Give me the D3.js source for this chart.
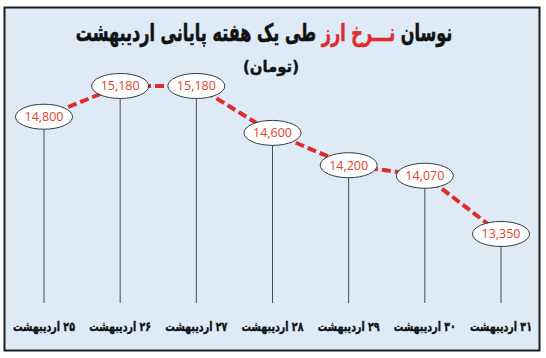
<!DOCTYPE html>
<html>
<head>
<meta charset="utf-8">
<script src="https://cdn.jsdelivr.net/npm/d3@7"></script>
<style>
  html, body { margin: 0; padding: 0; background: #ffffff; }
  svg { display: block; }
</style>
</head>
<body>
<svg id="chart" width="546" height="358"></svg>
<script>
// ---- data ----
const categories = ["۲۵ اردیبهشت", "۲۶ اردیبهشت", "۲۷ اردیبهشت", "۲۸ اردیبهشت", "۲۹ اردیبهشت", "۳۰ اردیبهشت", "۳۱ اردیبهشت"];
const values = [14800, 15180, 15180, 14600, 14200, 14070, 13350];
const valueLabels = ["14,800", "15,180", "15,180", "14,600", "14,200", "14,070", "13,350"];
const titleParts = ["نوسان ", "نـــرخ ارز", " طی یک هفته پایانی اردیبهشت"];
const subtitle = "(تومان)";

const W = 546, H = 358;
const svg = d3.select("#chart");

// fit a text element horizontally into a given width around centre cx
function fitX(sel, cx, cy, width) {
  sel.each(function() {
    const len = this.getComputedTextLength();
    const s = width / len;
    d3.select(this).attr("x", 0).attr("y", 0)
      .attr("transform", `translate(${cx},${cy}) scale(${s},1)`);
  });
}

// frame
svg.append("rect")
  .attr("x", 4.5).attr("y", 7.5)
  .attr("width", 535).attr("height", 343)
  .attr("fill", "#deebf7")
  .attr("stroke", "#1e1e1e")
  .attr("stroke-width", 2);

// scales
const x = d3.scalePoint().domain(categories).range([44, 501]);
const y = d3.scaleLinear().domain([13000, 15500]).range([262.3, 60.1]);
const baseY = 303;

const data = categories.map((c, i) => ({ c, v: values[i], lab: valueLabels[i] }));

// vertical stems
svg.append("g").selectAll("line").data(data).join("line")
  .attr("x1", d => x(d.c)).attr("x2", d => x(d.c))
  .attr("y1", d => y(d.v)).attr("y2", baseY)
  .attr("stroke", "#4a4a4a").attr("stroke-width", 1);

// dashed connecting line
const line = d3.line().x(d => x(d.c)).y(d => y(d.v));
svg.append("path").datum(data)
  .attr("d", line)
  .attr("fill", "none")
  .attr("stroke", "#e02b2b")
  .attr("stroke-width", 4)
  .attr("stroke-dasharray", "9,4");

// ellipses
const g = svg.append("g").selectAll("g").data(data).join("g")
  .attr("transform", d => `translate(${x(d.c)},${y(d.v)})`);
g.append("ellipse")
  .attr("rx", 28.5).attr("ry", 12.5)
  .attr("fill", "#ffffff")
  .attr("stroke", "#3a3a3a").attr("stroke-width", 1);
g.append("text")
  .attr("text-anchor", "middle")
  .attr("dy", "0.36em")
  .attr("font-family", "'Open Sans', 'Liberation Sans', sans-serif")
  .attr("font-size", 12.5)
  .attr("fill", "#e0442a")
  .text(d => d.lab);

// category labels
const cat = svg.append("g").selectAll("text").data(data).join("text")
  .attr("text-anchor", "middle")
  .attr("direction", "rtl")
  .attr("font-family", "'DejaVu Sans', sans-serif")
  .attr("font-weight", "bold")
  .attr("font-size", 13)
  .attr("fill", "#111")
  .attr("stroke", "#111").attr("stroke-width", 0.4)
  .text(d => d.c);
cat.each(function(d) { fitX(d3.select(this), x(d.c), 331, 62); });

// title
const title = svg.append("text")
  .attr("text-anchor", "middle")
  .attr("direction", "rtl")
  .attr("font-family", "'DejaVu Sans', sans-serif")
  .attr("font-weight", "bold")
  .attr("font-size", 24)
  .attr("fill", "#111")
  .attr("stroke", "#111").attr("stroke-width", 0.6);
title.append("tspan").text(titleParts[0]);
title.append("tspan").attr("fill", "#e02b2b").attr("stroke", "#e02b2b").text(titleParts[1]);
title.append("tspan").text(titleParts[2]);
fitX(title, 264, 41, 377);

const sub = svg.append("text")
  .attr("text-anchor", "middle")
  .attr("direction", "rtl")
  .attr("font-family", "'DejaVu Sans', sans-serif")
  .attr("font-weight", "bold")
  .attr("font-size", 16)
  .attr("fill", "#111")
  .attr("stroke", "#111").attr("stroke-width", 0.4)
  .text(subtitle);
fitX(sub, 271, 72, 56);
</script>
</body>
</html>
